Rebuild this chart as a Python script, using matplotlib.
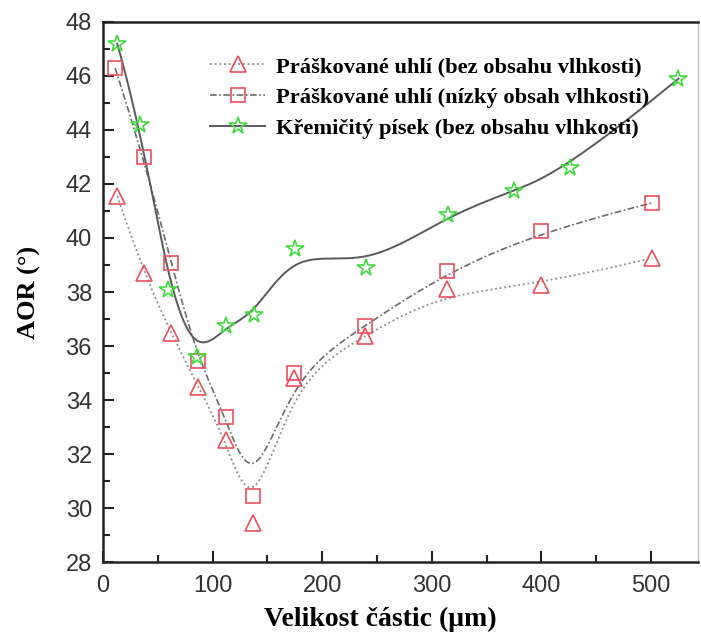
import numpy as np
import matplotlib
matplotlib.use("Agg")
import matplotlib.pyplot as plt
from matplotlib.ticker import MultipleLocator

# Particle size (um) and angle of repose (deg)
coal_dry_x = [13, 37, 62, 87, 112, 137, 174, 239, 314, 400, 501]
coal_dry_y = [41.55, 38.7, 36.48, 34.48, 32.52, 29.44, 34.8, 36.37, 38.1, 38.26, 39.26]

coal_moist_x = [11, 37, 62, 87, 112, 137, 174, 239, 314, 400, 501]
coal_moist_y = [46.3, 43.0, 39.07, 35.44, 33.37, 30.45, 35.0, 36.74, 38.78, 40.26, 41.3]

sand_x = [13, 34, 59, 86, 112, 138, 175, 240, 315, 375, 426, 525]
sand_y = [47.19, 44.19, 38.07, 35.6, 36.74, 37.15, 39.6, 38.9, 40.85, 41.74, 42.6, 45.9]

labels = [
    "Práškované uhlí (bez obsahu vlhkosti)",
    "Práškované uhlí (nízký obsah vlhkosti)",
    "Křemičitý písek (bez obsahu vlhkosti)",
]


def bspline(xs, ys, k=3, n=500):
    """Clamped uniform B-spline using the data points as control points."""
    P = np.column_stack([xs, ys]).astype(float)
    m = len(P)
    k = min(k, m - 1)
    t = np.concatenate([np.zeros(k + 1), np.arange(1, m - k), np.full(k + 1, m - k)]).astype(float)
    u = np.linspace(0, m - k, n)
    N = np.zeros((n, len(t) - 1))
    for i in range(len(t) - 1):
        N[:, i] = (t[i] <= u) & (u < t[i + 1])
    last = np.where(t[:-1] < t[1:])[0][-1]
    N[-1, :] = 0
    N[-1, last] = 1
    for p in range(1, k + 1):
        Nn = np.zeros((n, len(t) - 1 - p))
        for i in range(len(t) - 1 - p):
            a = 0.0
            d1 = t[i + p] - t[i]
            if d1 > 0:
                a = (u - t[i]) / d1 * N[:, i]
            b = 0.0
            d2 = t[i + p + 1] - t[i + 1]
            if d2 > 0:
                b = (t[i + p + 1] - u) / d2 * N[:, i + 1]
            Nn[:, i] = a + b
        N = Nn
    C = N @ P
    return C[:, 0], C[:, 1]


red = "#e9505e"
green = "#3fdc3f"

fig = plt.figure(figsize=(7.01, 6.37), dpi=100)
ax = fig.add_axes([0.147, 0.1177, 0.849, 0.8478])

series = [
    (coal_dry_x, coal_dry_y, (0, (1, 1.6)), "#8a8a8a", 1.3, "^", red, 11.5),
    (coal_moist_x, coal_moist_y, (0, (4, 1.5, 1, 1.5)), "#6a6a6a", 1.2, "s", red, 10),
    (sand_x, sand_y, "-", "#5a5a5a", 1.4, "*", green, 13),
]

handles = []
for (xs, ys, ls, lc, lw, mk, mc, ms), lab in zip(series, labels):
    cx, cy = bspline(xs, ys)
    ax.plot(cx, cy, linestyle=ls, color=lc, linewidth=lw, zorder=2)
    ax.plot(xs, ys, linestyle="none", marker=mk, markersize=ms,
            markerfacecolor="none", markeredgecolor=mc, markeredgewidth=1.2, zorder=3)
    h, = ax.plot([], [], linestyle=ls, color=lc, linewidth=lw, marker=mk,
                 markersize=ms, markerfacecolor="none", markeredgecolor=mc,
                 markeredgewidth=1.2, label=lab)
    handles.append(h)

ax.set_xlim(0, 543)
ax.set_ylim(28, 48)
ax.xaxis.set_major_locator(MultipleLocator(100))
ax.xaxis.set_minor_locator(MultipleLocator(50))
ax.yaxis.set_major_locator(MultipleLocator(2))
ax.yaxis.set_minor_locator(MultipleLocator(1))

ax.tick_params(which="both", direction="in", top=False, right=False,
               width=1.5, colors="#222222")
ax.tick_params(which="major", length=8, labelsize=17)
ax.tick_params(axis="x", which="major", pad=9)
ax.tick_params(axis="y", which="major", pad=8)
ax.tick_params(which="minor", length=5)
for lab in ax.get_xticklabels() + ax.get_yticklabels():
    lab.set_fontfamily("Liberation Sans")
    lab.set_color("#333333")

for s in ["left", "bottom", "top"]:
    ax.spines[s].set_linewidth(1.8)
    ax.spines[s].set_color("#222222")
ax.spines["right"].set_linewidth(0.8)
ax.spines["right"].set_color("#bbbbbb")

serif = {"family": "Liberation Serif", "weight": "bold"}
ax.set_xlabel("Velikost částic (μm)", fontdict={**serif, "size": 20})
ax.xaxis.label.set_va("center")
ax.xaxis.set_label_coords(0.466, -0.1056)
ax.set_ylabel("AOR (°)", fontdict={**serif, "size": 19})
ax.yaxis.label.set_va("center")
ax.yaxis.set_label_coords(-0.124, 0.5)

leg = ax.legend(handles=handles, loc="upper left", bbox_to_anchor=(0.18, 0.936),
                frameon=False, prop={"family": "Liberation Serif", "weight": "bold", "size": 16.2},
                handlelength=2.45, handletextpad=0.49, labelspacing=0.44,
                borderaxespad=0, borderpad=0)

fig.savefig("out.png", dpi=100)
